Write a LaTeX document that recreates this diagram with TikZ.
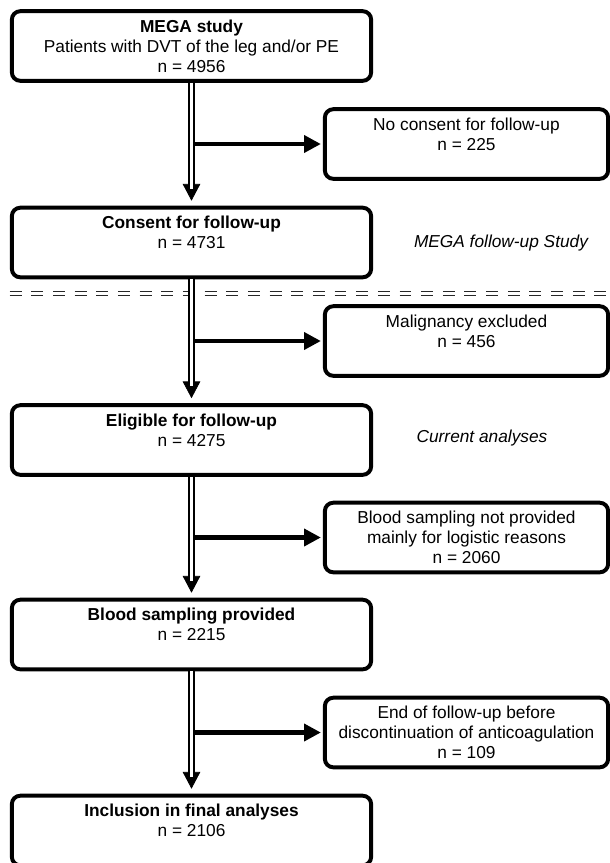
\documentclass[tikz,border=0pt]{standalone}
\usepackage{fontspec}
\setmainfont{Liberation Sans}
\usetikzlibrary{arrows.meta}

\begin{document}
\begin{tikzpicture}[x=0.025cm,y=-0.025cm]
\useasboundingbox (0,0) rectangle (610,863);

\tikzset{
    flowbox/.style={draw,line width=2.8pt,rounded corners=6pt,align=center,
        minimum height=1.74cm,inner sep=0pt,
        font=\fontsize{12.3}{14.2}\selectfont},
    mainbox/.style={flowbox,minimum width=8.98cm},
    sidebox/.style={flowbox,minimum width=7.08cm},
    dblline/.style={double,line width=1.05pt,double distance=2.5pt,shorten >=0.425cm},
    dbltip/.style={line width=0.5pt,-{Triangle[length=0.42cm,width=0.44cm]},shorten >=0.125cm},
    sidearrow/.style={line width=2.9pt,-{Triangle[length=0.42cm,width=0.42cm]},
        shorten <=0.08cm,shorten >=0.05cm},
    sepline/.style={black!85,line width=1.1pt,dash pattern=on 8.5pt off 6.9pt,dash phase=8.5pt}
}

\node[mainbox] (b1) at (191.5,46) {\textbf{MEGA study}\\Patients with DVT of the leg and/or PE\\n = 4956};
\node[sidebox] (n1) at (466.5,144) {No consent for follow-up\\n = 225\\~};
\node[mainbox] (b2) at (191.5,242.5) {\textbf{Consent for follow-up}\\n = 4731\\~};
\node[font=\fontsize{12.3}{14.2}\selectfont\itshape] (fulabel) at (501,243) {MEGA follow-up Study};

\draw[sepline] (0,291.7) -- (610,291.7);
\draw[sepline] (0,295.5) -- (610,295.5);

\node[sidebox] (n2) at (466.5,341) {Malignancy excluded\\n = 456\\~};
\node[mainbox] (b3) at (191.5,440) {\textbf{Eligible for follow-up}\\n = 4275\\~};
\node[font=\fontsize{12.3}{14.2}\selectfont\itshape] (curlabel) at (482,438) {Current analyses};
\node[sidebox] (n3) at (466.5,537.5) {Blood sampling not provided\\mainly for logistic reasons\\n = 2060};
\node[mainbox] (b4) at (191.5,634.5) {\textbf{Blood sampling provided}\\n = 2215\\~};
\node[sidebox] (n4) at (466.5,732.5) {End of follow-up before\\discontinuation of anticoagulation\\n = 109};
\node[mainbox] (b5) at (191.5,830.5) {\textbf{Inclusion in final analyses}\\n = 2106\\~};

% double arrows down the main column
\draw[dbltip] (b1.south) -- (b2.north);
\draw[dblline] (b1.south) -- (b2.north);
\draw[dbltip] (b2.south) -- (b3.north);
\draw[dblline] (b2.south) -- (b3.north);
\draw[dbltip] (b3.south) -- (b4.north);
\draw[dblline] (b3.south) -- (b4.north);
\draw[dbltip] (b4.south) -- (b5.north);
\draw[dblline] (b4.south) -- (b5.north);

% exclusions
\draw[sidearrow] (b1.south |- n1.west) -- (n1.west);
\draw[sidearrow] (b2.south |- n2.west) -- (n2.west);
\draw[sidearrow] (b3.south |- n3.west) -- (n3.west);
\draw[sidearrow] (b4.south |- n4.west) -- (n4.west);

\end{tikzpicture}
\end{document}
